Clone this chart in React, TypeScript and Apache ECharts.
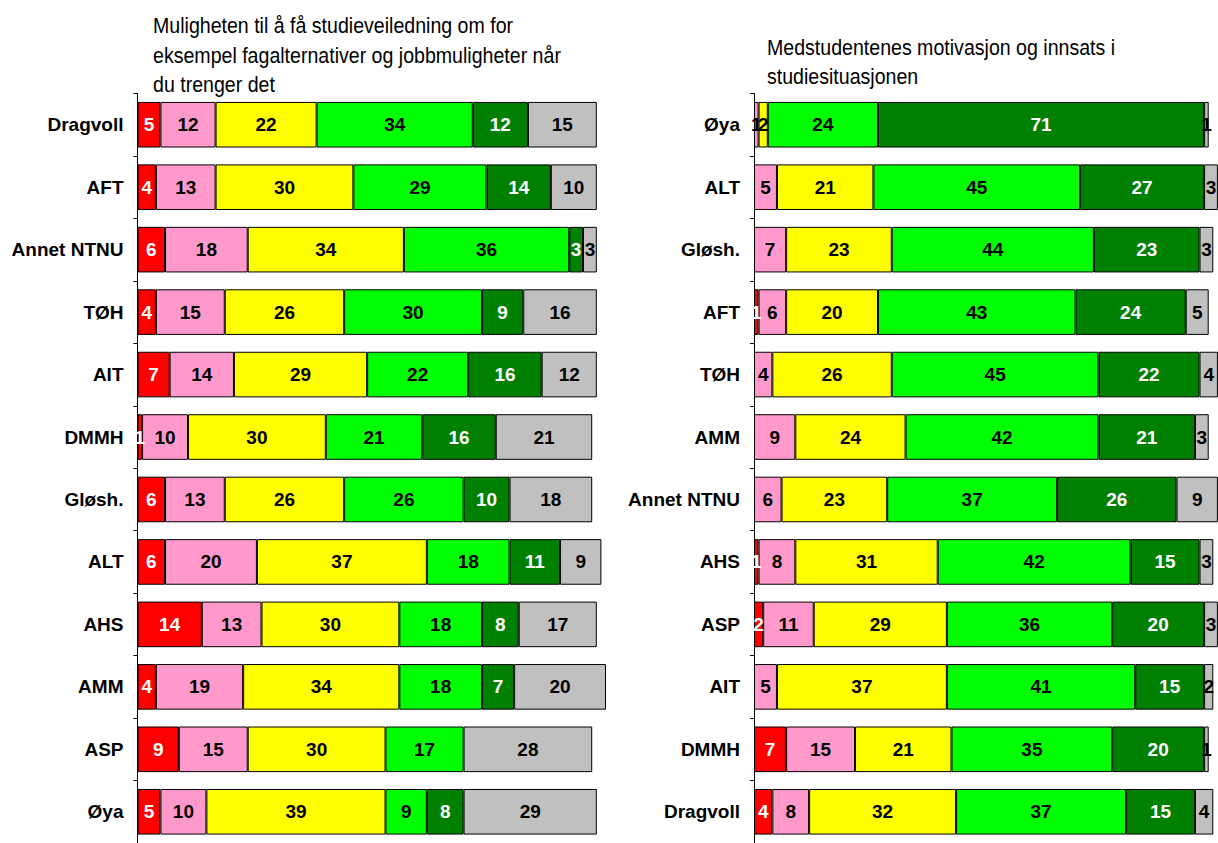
import React, { useEffect, useRef } from "react";
import * as echarts from "echarts";

const seriesNames = ["s1", "s2", "s3", "s4", "s5", "s6"];
const colors = ["#FF0000", "#FF99CC", "#FFFF00", "#00FF00", "#008000", "#C0C0C0"];
const labelColors = ["#FFFFFF", "#000000", "#000000", "#000000", "#FFFFFF", "#000000"];

const leftTitleLines = [
  "Muligheten til å få studieveiledning om for",
  "eksempel fagalternativer og jobbmuligheter når",
  "du trenger det",
];
const rightTitleLines = ["Medstudentenes motivasjon og innsats i", "studiesituasjonen"];

const leftCategories = ["Dragvoll", "AFT", "Annet NTNU", "TØH", "AIT", "DMMH", "Gløsh.", "ALT", "AHS", "AMM", "ASP", "Øya"];
const leftS1 = [5, 4, 6, 4, 7, 1, 6, 6, 14, 4, 9, 5];
const leftS2 = [12, 13, 18, 15, 14, 10, 13, 20, 13, 19, 15, 10];
const leftS3 = [22, 30, 34, 26, 29, 30, 26, 37, 30, 34, 30, 39];
const leftS4 = [34, 29, 36, 30, 22, 21, 26, 18, 18, 18, 17, 9];
const leftS5 = [12, 14, 3, 9, 16, 16, 10, 11, 8, 7, 0, 8];
const leftS6 = [15, 10, 3, 16, 12, 21, 18, 9, 17, 20, 28, 29];

const rightCategories = ["Øya", "ALT", "Gløsh.", "AFT", "TØH", "AMM", "Annet NTNU", "AHS", "ASP", "AIT", "DMMH", "Dragvoll"];
const rightS1 = [0, 0, 0, 1, 0, 0, 0, 1, 2, 0, 7, 4];
const rightS2 = [1, 5, 7, 6, 4, 9, 6, 8, 11, 5, 15, 8];
const rightS3 = [2, 21, 23, 20, 26, 24, 23, 31, 29, 37, 21, 32];
const rightS4 = [24, 45, 44, 43, 45, 42, 37, 42, 36, 41, 35, 37];
const rightS5 = [71, 27, 23, 24, 22, 21, 26, 15, 20, 15, 20, 15];
const rightS6 = [1, 3, 3, 5, 4, 3, 9, 3, 3, 2, 1, 4];

const leftSeries = [leftS1, leftS2, leftS3, leftS4, leftS5, leftS6];
const rightSeries = [rightS1, rightS2, rightS3, rightS4, rightS5, rightS6];

const FONT = "'Liberation Sans', Arial, sans-serif";

export default function App() {
  const ref = useRef<HTMLDivElement>(null);
  useEffect(() => {
    if (!ref.current) return;
    const chart = echarts.init(ref.current, null, { renderer: "svg" });
    const rowH = 63;
    const gridTop = 93.5;
    const unit = 4.593;
    const leftMax = 110;
    const rightMax = 101;
    const mkSeries = (data: number[][], idx: number, stack: string) =>
      data.map((vals, i) => ({
        name: seriesNames[i],
        type: "bar",
        stack,
        xAxisIndex: idx,
        yAxisIndex: idx,
        barCategoryGap: "27%",
        clip: false,
        data: vals.map((v) => (v === 0 ? "-" : v)),
        itemStyle: { color: colors[i], borderColor: "#000000", borderWidth: 1 },
        label: {
          show: true,
          position: "inside",
          color: labelColors[i],
          fontFamily: FONT,
          fontWeight: "bold",
          fontSize: 19,
        },
      }));
    const yAx = (cats: string[], idx: number) => ({
      type: "category",
      gridIndex: idx,
      data: cats,
      inverse: true,
      axisLine: { show: true, lineStyle: { color: "#000000", width: 1 } },
      axisTick: { show: true, length: 4, lineStyle: { color: "#000000" } },
      axisLabel: {
        color: "#000000",
        fontFamily: FONT,
        fontWeight: "bold",
        fontSize: 19,
        margin: 14,
      },
    });
    const xAx = (idx: number, max: number) => ({
      type: "value",
      gridIndex: idx,
      min: 0,
      max,
      show: false,
      splitLine: { show: false },
    });
    const titleText = (lines: string[], x: number, baselines: number[]) =>
      lines.map((t, i) => ({
        type: "text",
        x,
        y: baselines[i] - 7.6,
        scaleX: 0.89,
        style: {
          text: t,
          fill: "#000000",
          fontFamily: FONT,
          fontSize: 22,
          fontWeight: "normal",
          align: "left",
          verticalAlign: "middle",
        },
      }));
    chart.setOption({
      animation: false,
      backgroundColor: "#FFFFFF",
      graphic: [
        ...titleText(leftTitleLines, 153, [33, 62.5, 92]),
        ...titleText(rightTitleLines, 767, [55, 83.5]),
      ],
      grid: [
        { left: 137.5, top: gridTop, width: leftMax * unit, height: rowH * 12 },
        { left: 754, top: gridTop, width: rightMax * unit, height: rowH * 12 },
      ],
      xAxis: [xAx(0, leftMax), xAx(1, rightMax)],
      yAxis: [yAx(leftCategories, 0), yAx(rightCategories, 1)],
      series: [...mkSeries(leftSeries, 0, "left"), ...mkSeries(rightSeries, 1, "right")],
    });
    return () => chart.dispose();
  }, []);
  return (
    <div
      ref={ref}
      style={{ position: "absolute", left: 0, top: 0, width: 1218, height: 843 }}
    />
  );
}
